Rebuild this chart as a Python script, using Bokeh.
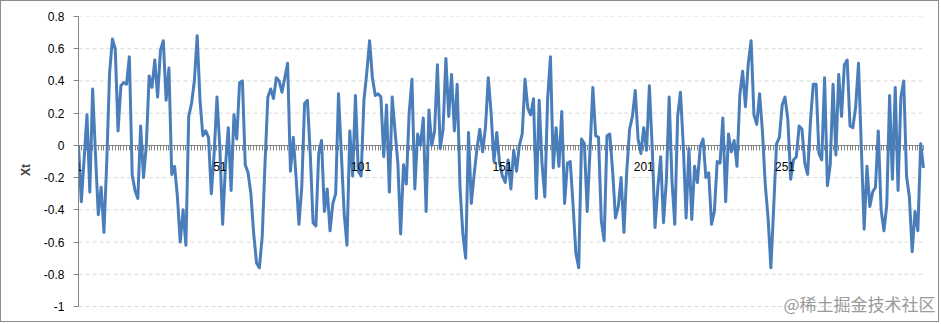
from bokeh.plotting import figure
from bokeh.models import Range1d, FixedTicker, Label, LinearAxis
from bokeh.embed import file_html
from bokeh.resources import INLINE

# Series values Xt, t = 1..300
xt = [
    0.00, -0.35, -0.08, 0.19, -0.29, 0.35, -0.05, -0.43, -0.26, -0.54,
    -0.10, 0.45, 0.66, 0.60, 0.09, 0.37, 0.39, 0.38, 0.55, -0.18,
    -0.28, -0.33, 0.12, -0.20, 0.00, 0.43, 0.36, 0.53, 0.30, 0.59,
    0.65, 0.28, 0.48, -0.18, -0.13, -0.32, -0.60, -0.40, -0.62, 0.18,
    0.26, 0.40, 0.68, 0.28, 0.06, 0.09, 0.05, -0.30, -0.05, 0.30,
    -0.01, -0.49, -0.13, 0.11, -0.28, 0.19, 0.04, 0.39, 0.40, -0.12,
    -0.17, -0.30, -0.55, -0.73, -0.76, -0.57, -0.11, 0.30, 0.35, 0.29,
    0.42, 0.40, 0.33, 0.42, 0.51, -0.16, 0.05, -0.20, -0.49, -0.26,
    0.26, 0.28, -0.05, -0.48, -0.50, -0.05, 0.03, -0.41, -0.27, -0.53,
    -0.36, -0.30, 0.32, -0.05, -0.42, -0.62, 0.09, -0.19, 0.31, -0.16,
    -0.19, 0.28, 0.45, 0.65, 0.42, 0.31, 0.32, 0.30, -0.07, 0.25,
    -0.29, 0.30, 0.09, -0.11, -0.55, -0.12, -0.24, 0.20, 0.41, -0.27,
    0.07, 0.00, 0.17, -0.41, 0.22, 0.00, 0.09, 0.50, -0.02, 0.10,
    0.54, 0.18, 0.44, 0.09, 0.38, -0.26, -0.55, -0.70, 0.08, -0.36,
    -0.18, -0.02, 0.10, -0.04, 0.11, 0.42, 0.20, -0.10, 0.08, -0.11,
    -0.19, -0.23, -0.09, -0.27, -0.03, -0.16, 0.00, 0.07, 0.41, 0.23,
    0.19, 0.29, -0.33, 0.28, -0.11, -0.32, 0.29, 0.55, -0.14, 0.11,
    -0.13, 0.21, -0.36, -0.11, -0.10, -0.37, -0.67, -0.76, 0.04, 0.01,
    -0.41, -0.03, 0.36, 0.06, 0.05, -0.47, -0.59, 0.06, 0.07, -0.16,
    -0.45, -0.38, -0.20, -0.54, -0.16, 0.10, 0.18, 0.34, 0.04, -0.05,
    0.11, -0.03, 0.37, -0.01, -0.51, -0.26, -0.07, -0.48, -0.22, 0.30,
    -0.22, -0.49, 0.18, 0.33, 0.00, -0.45, -0.02, -0.46, -0.13, -0.23,
    -0.01, 0.04, -0.20, -0.17, -0.49, -0.41, -0.10, -0.11, 0.17, -0.35,
    0.07, -0.04, 0.03, -0.13, 0.31, 0.46, 0.24, 0.51, 0.65, 0.19,
    0.13, 0.32, 0.09, -0.24, -0.45, -0.76, -0.38, 0.01, 0.05, 0.25,
    0.30, 0.16, -0.21, -0.09, -0.07, 0.12, 0.10, -0.11, -0.18, 0.15,
    0.38, 0.38, -0.05, -0.09, 0.42, -0.25, -0.12, 0.38, -0.06, 0.44,
    0.18, 0.50, 0.53, 0.12, 0.11, 0.24, 0.51, -0.01, -0.52, -0.13,
    -0.38, -0.29, -0.26, 0.09, -0.40, -0.53, -0.37, 0.31, -0.21, 0.36,
    -0.28, 0.30, 0.40, -0.19, -0.32, -0.66, -0.41, -0.53, 0.01, -0.14,
]
t = list(range(1, len(xt) + 1))

x_ticks = [1, 51, 101, 151, 201, 251]
x_tick_labels = ["1", "51", "101", "151", "201", "251"]
y_ticks = [-1, -0.8, -0.6, -0.4, -0.2, 0, 0.2, 0.4, 0.6, 0.8]
y_tick_labels = ["-1", "-0.8", "-0.6", "-0.4", "-0.2", "0", "0.2", "0.4", "0.6", "0.8"]
y_title = "Xt"
watermark = "@稀土掘金技术社区"

FONT = "Liberation Sans"
AXIS_GRAY = "#868686"

# layout (pixels): canvas 939x322 inside a 1px border
W, H = 939, 322
LEFT, TOP = 77, 15
PLOT_W = 845.0          # pixel span from first to last point
PLOT_H = 290.0          # pixel span from y=0.8 to y=-1
n = len(xt)
px_per_x = PLOT_W / (n - 1)
px_per_y = PLOT_H / (y_ticks[-1] - y_ticks[0])
x_end = 1 + (W - LEFT) / px_per_x
y_start = y_ticks[-1] - (H - TOP) / px_per_y

p = figure(width=W, height=H, output_backend="svg", toolbar_location=None,
           x_range=Range1d(1, x_end), y_range=Range1d(y_start, y_ticks[-1]),
           min_border_left=LEFT, min_border_right=0, min_border_top=TOP, min_border_bottom=0)
p.styles = {"border": "1px solid #8c8c8c"}
p.outline_line_color = None
p.background_fill_color = "white"
p.border_fill_color = "white"
p.xgrid.visible = False
p.ygrid.visible = False

# horizontal dashed gridlines spanning the series
grid_y = [v for v in y_ticks if v != 0]
p.segment(x0=[1] * len(grid_y), x1=[n] * len(grid_y), y0=grid_y, y1=grid_y,
          line_color="#d9d9d9", line_width=1, line_dash="4 3")

# x axis line and category ticks at y = 0
xa = p.xaxis[0]
xa.fixed_location = 0
xa.bounds = (1, n)
xa.ticker = FixedTicker(ticks=x_ticks, minor_ticks=t)
xa.axis_line_color = AXIS_GRAY
xa.major_tick_line_color = AXIS_GRAY
xa.minor_tick_line_color = AXIS_GRAY
xa.major_tick_in = 0
xa.major_tick_out = 5
xa.minor_tick_in = 0
xa.minor_tick_out = 5
xa.major_label_text_color = None
xa.level = "underlay"

# y axis
ya = p.yaxis[0]
ya.bounds = (y_ticks[0], y_ticks[-1])
ya.ticker = FixedTicker(ticks=y_ticks, minor_ticks=[])
ya.major_label_overrides = dict(zip(y_ticks, y_tick_labels))
ya.axis_line_color = AXIS_GRAY
ya.major_tick_line_color = AXIS_GRAY
ya.major_tick_in = 0
ya.major_tick_out = 5
ya.minor_tick_line_color = None
ya.major_label_standoff = 9
ya.major_label_text_font = FONT
ya.major_label_text_font_size = "12px"
ya.major_label_text_color = "#000000"
ya.axis_label = y_title
ya.axis_label_text_font = FONT
ya.axis_label_text_font_size = "12px"
ya.axis_label_text_font_style = "bold"
ya.axis_label_standoff = 8

p.line(t, xt, line_color="#4A7EBB", line_width=3, line_join="round")

# x tick labels drawn above the series
xl = LinearAxis(fixed_location=0, bounds=(1, n),
                ticker=FixedTicker(ticks=x_ticks, minor_ticks=[]),
                major_label_overrides=dict(zip(x_ticks, x_tick_labels)),
                axis_line_color=None, major_tick_line_color=None, minor_tick_line_color=None,
                major_tick_in=0, major_tick_out=5,
                major_label_standoff=12, major_label_text_font=FONT,
                major_label_text_font_size="12px", major_label_text_color="#000000")
p.add_layout(xl, "below")

p.add_layout(Label(x=857, y=8, x_units="screen", y_units="screen", text=watermark,
                   text_font="Noto Sans CJK SC", text_font_size="17px",
                   text_color="#9a9a9a", text_align="right", text_baseline="bottom"))

open("out.html", "w").write(file_html(p, INLINE))
